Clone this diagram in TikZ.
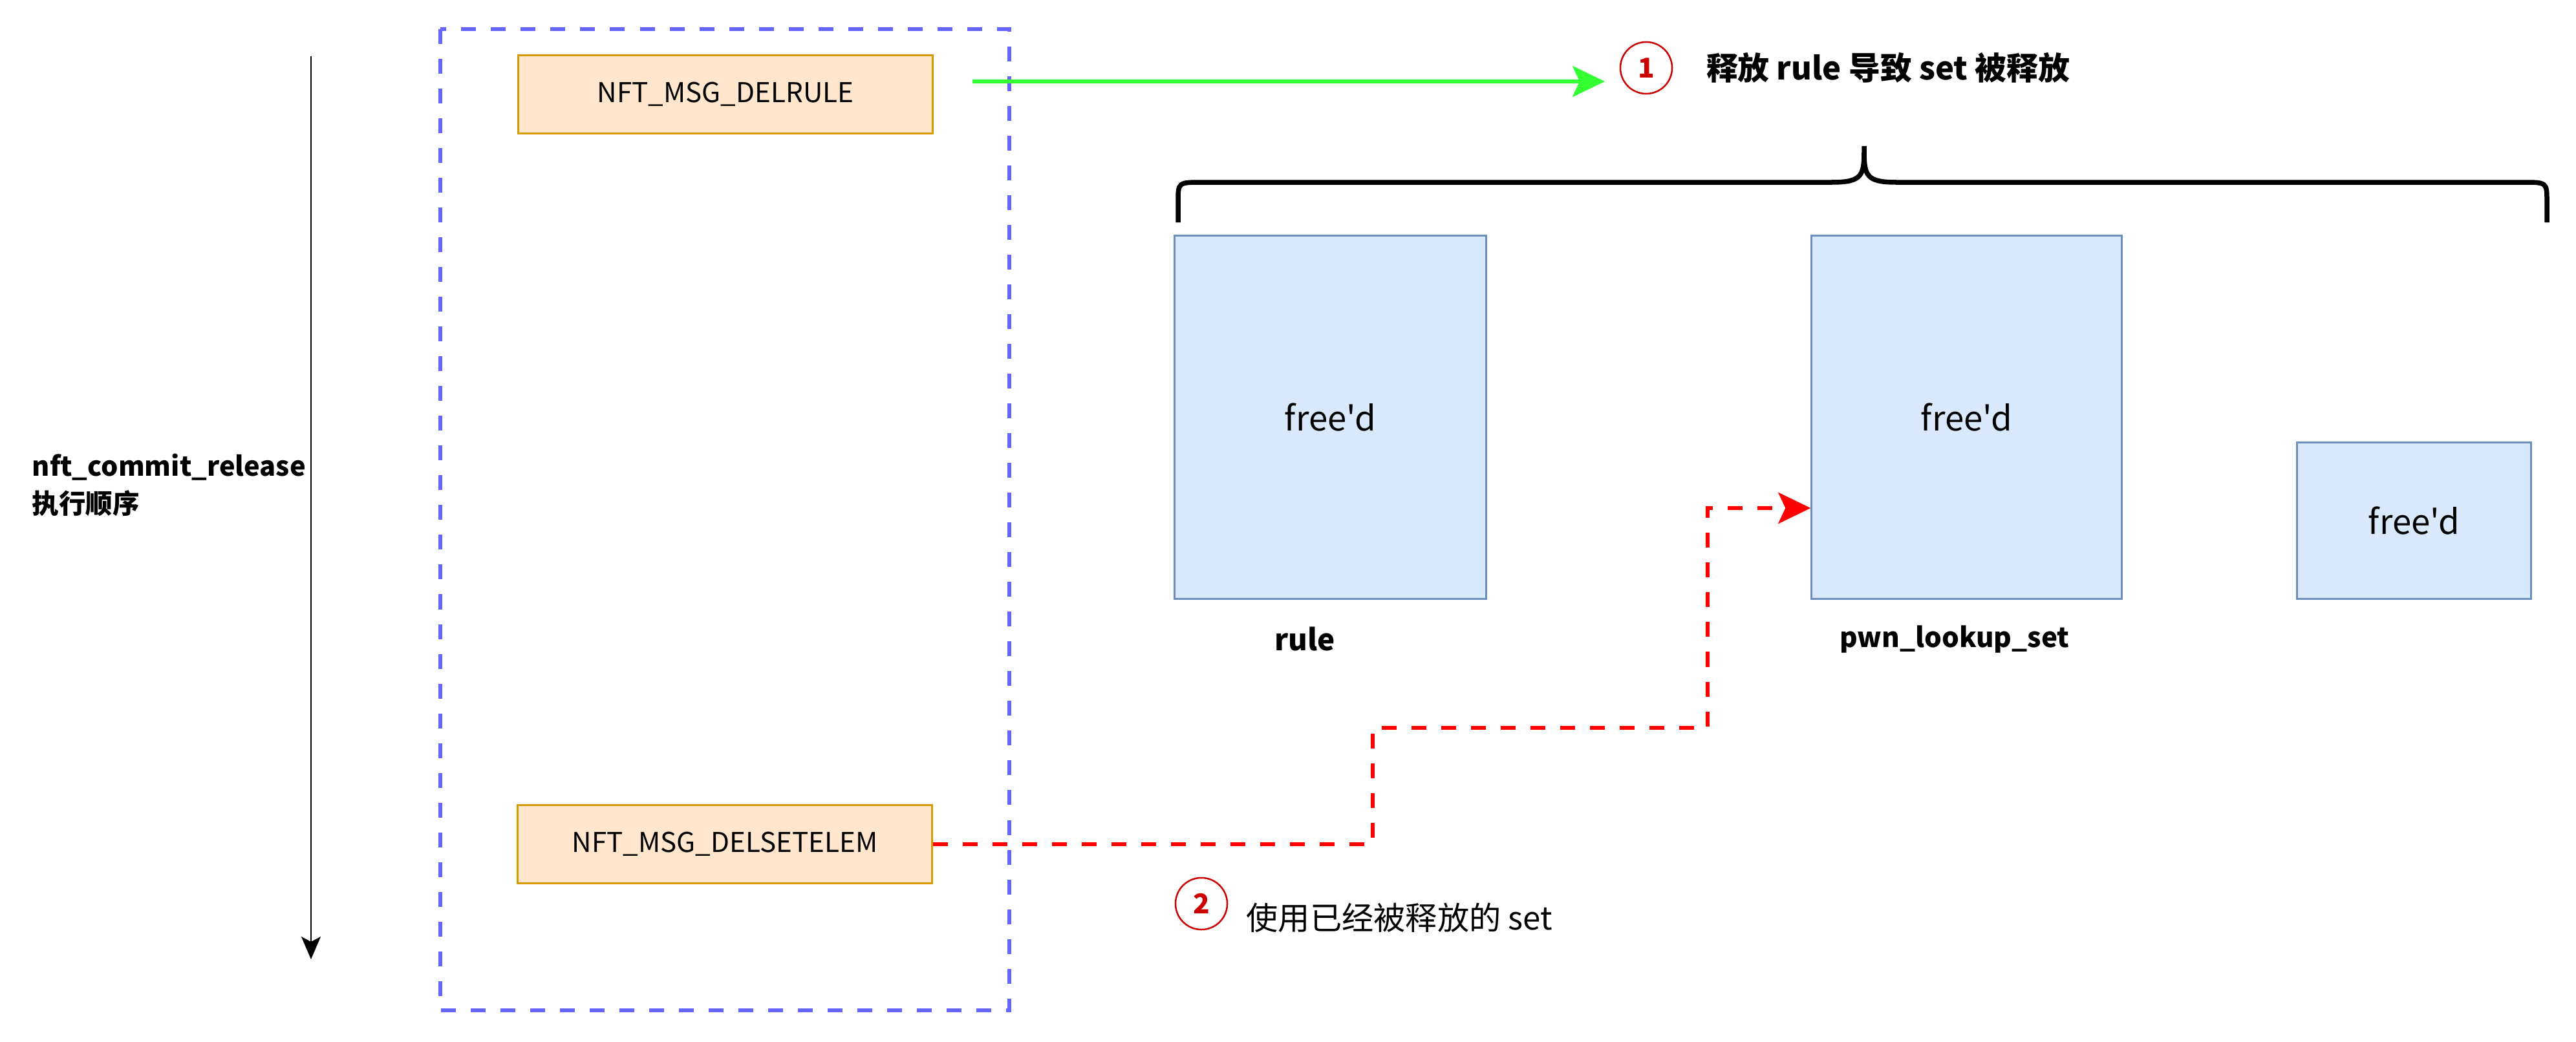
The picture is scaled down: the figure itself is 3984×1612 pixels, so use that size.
\documentclass[tikz,border=0pt]{standalone}
\usepackage{fontspec}
\setmainfont{Noto Sans CJK SC}[Ligatures=TeXOff]
\usepackage{xcolor}
\usepackage{tikz}
\usetikzlibrary{arrows.meta}
\usetikzlibrary{positioning}
\usetikzlibrary{calc}

\definecolor{msgfill}{HTML}{FFE6CC}
\definecolor{msgline}{HTML}{D79B00}
\definecolor{memfill}{HTML}{DAE8FC}
\definecolor{memline}{HTML}{6C8EBF}
\definecolor{frameline}{HTML}{6666FF}
\definecolor{freeline}{HTML}{33FF33}
\definecolor{useline}{HTML}{FF0000}
\definecolor{stepred}{HTML}{CC0000}

\tikzset{
  msgbox/.style={rectangle,draw=msgline,fill=msgfill,line width=0.03cm,
    minimum width=6.4cm,minimum height=1.2cm,inner sep=0pt,font=\fontsize{12pt}{14pt}\selectfont},
  memblock/.style={rectangle,draw=memline,fill=memfill,line width=0.03cm,inner sep=0pt,
    font=\fontsize{15pt}{17pt}\selectfont},
  memname/.style={inner sep=0pt,font=\fontsize{12pt}{14pt}\selectfont\bfseries},
  stepmark/.style={circle,draw=stepred,text=stepred,line width=0.025cm,minimum size=0.8cm,
    inner sep=0pt,font=\fontsize{12pt}{14pt}\selectfont\bfseries},
  steptext/.style={inner sep=0pt,font=\fontsize{14pt}{17pt}\selectfont},
  fat/.style={line width=0.065cm,dash pattern=on 0.23cm off 0.23cm}
}

\begin{document}
\begin{tikzpicture}[x=0.01cm,y=-0.01cm]
	\useasboundingbox (0,0) rectangle (3984,1612);
	\draw[frameline,fat] (681,45) rectangle (1561,1563);
	\node[msgbox] (delrule) at (1122,146) {NFT\_MSG\_DELRULE};
	\node[msgbox] (delsetelem) at (1121,1306) {NFT\_MSG\_DELSETELEM};

	\node[anchor=west,align=left,inner sep=0pt,font=\fontsize{11.8pt}{16.5pt}\selectfont\bfseries] (order) at (49,750)
	  {nft\_commit\_release\\执行顺序};
	\coordinate (ordtop) at (481,87);
	\coordinate (ordbot) at (481,1484);
	\draw[line width=0.025cm,-{Stealth[length=0.35cm,width=0.3cm,inset=0.08cm]}] (ordtop) -- (ordbot);

	\begin{scope}[every node/.style={memblock}]
	  \node[minimum width=4.81cm,minimum height=5.61cm] (rule) at (2057.5,645.5) {free'd};
	  \node[minimum width=4.79cm,minimum height=5.61cm] (pwnset) at (3041.5,645.5) {free'd};
	  \node[minimum width=3.61cm,minimum height=2.41cm] (spare) at (3733.5,805.5) {free'd};
	\end{scope}
	\node[memname,font=\fontsize{13pt}{15pt}\selectfont\bfseries] (rulename) at (2018,989) {rule};
	\node[memname] (pwnname) at (3023,989) {pwn\_lookup\_set};

	\draw[line width=0.075cm] (1822,344) -- (1822,312) .. controls (1822,282) .. (1860,282)
	  -- (2833,282) .. controls (2883,282) and (2883,270) .. (2883,226)
	  .. controls (2883,270) and (2883,282) .. (2933,282)
	  -- (3901,282) .. controls (3939,282) .. (3939,312) -- (3939,344);

	\node[stepmark] (stepone) at (2546,105) {1};
	\node[steptext,right=0.51cm of stepone,font=\fontsize{13.9pt}{16pt}\selectfont\bfseries] (freetext)
	  {释放 rule 导致 set 被释放};
	\coordinate (freestart) at (1504,126);
	\draw[freeline,line width=0.05cm,-{Stealth[length=0.5cm,width=0.48cm,inset=0.11cm]}]
	  (freestart) -- (2482,126);

	\node[stepmark] (steptwo) at (1858,1398) {2};
	\node[steptext,anchor=west] (usetext) at (1927,1420) {使用已经被释放的 set};
	\coordinate (hit) at (2802,786);
	\draw[useline,fat,-{Stealth[length=0.5cm,width=0.48cm,inset=0.11cm]}]
	  (delsetelem.east) -| (2123,1126) -| (2641,786) -- (pwnset.west |- hit);
\end{tikzpicture}
\end{document}
